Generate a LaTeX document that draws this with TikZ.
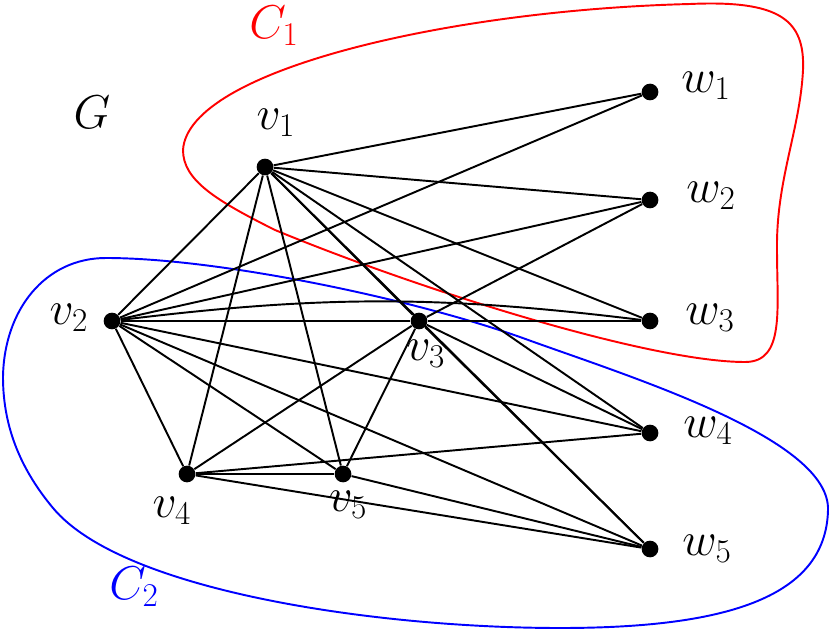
\documentclass[tikz,border=0pt]{standalone}
\usepackage{fix-cm}
\tikzset{
  vdot/.style={circle, fill, inner sep=0pt, minimum size=9.5pt},
  vlab/.style={font=\fontsize{27}{30}\selectfont},
  edge/.style={line width=1.1pt},
}
\begin{document}
\begin{tikzpicture}[x=0.2mm, y=-0.2mm, line width=0.5pt]
\useasboundingbox (0,0) rectangle (830,629);
% the two sets
\draw[red, line width=1.1pt] (183,150) .. controls (188,70) and (450,10) .. (690,4)
  .. controls (780,0) and (805,20) .. (803,70)
  .. controls (800,130) and (776,180) .. (777,250)
  .. controls (777,310) and (785,362) .. (745,362)
  .. controls (650,362) and (420,290) .. (275,230)
  .. controls (215,200) and (183,180) .. (183,150) -- cycle;
\draw[blue, line width=1.1pt] (106,258) .. controls (220,258) and (420,300) .. (531,341)
  .. controls (640,380) and (830,440) .. (828,510)
  .. controls (826,600) and (720,628) .. (560,628)
  .. controls (380,628) and (123,592) .. (53,508)
  .. controls (23,472) and (3,430) .. (3,377)
  .. controls (4,310) and (45,258) .. (106,258) -- cycle;
\node[vlab] (G) at (92,112) {$G$};
\node[vlab, red] (C1) at (274,26) {$C_1$};
\node[vlab, blue] (C2) at (134,587) {$C_2$};
% vertices
\node[vdot] (v1) at (265,167){};
\node[vdot] (v2) at (112,321){};
\node[vdot] (v3) at (419,321){};
\node[vdot] (v4) at (187,474){};
\node[vdot] (v5) at (343,474){};
\node[vdot] (w1) at (650,92){};
\node[vdot] (w2) at (650,200){};
\node[vdot] (w3) at (650,321){};
\node[vdot] (w4) at (650,433){};
\node[vdot] (w5) at (650,549){};
\node[vlab] (tv1) at (276,123) {$v_1$};
\node[vlab] (tv2) at (69,318) {$v_2$};
\node[vlab] (tv3) at (426,354) {$v_3$};
\node[vlab] (tv4) at (172,511) {$v_4$};
\node[vlab] (tv5) at (348,505) {$v_5$};
\node[vlab] (tw1) at (706,86) {$w_1$};
\node[vlab] (tw2) at (711,196) {$w_2$};
\node[vlab] (tw3) at (710,318) {$w_3$};
\node[vlab] (tw4) at (708,431) {$w_4$};
\node[vlab] (tw5) at (707,549) {$w_5$};
% edges
\foreach \a/\b in {v1/w1, v1/w2, v1/w3, v1/w4, v1/w5, v1/v2, v1/v3, v1/v4, v1/v5,
  v2/w1, v2/w2, v2/v3, v2/w4, v2/w5, v2/v4, v2/v5,
  v3/w2, v3/w3, v3/w4, v3/w5, v3/v4, v3/v5,
  v4/v5, v4/w4, v4/w5, v5/w5}
  \draw[edge] (\a) -- (\b);
\draw[edge] (v2) to[bend left=7] (w3);
\end{tikzpicture}
\end{document}
